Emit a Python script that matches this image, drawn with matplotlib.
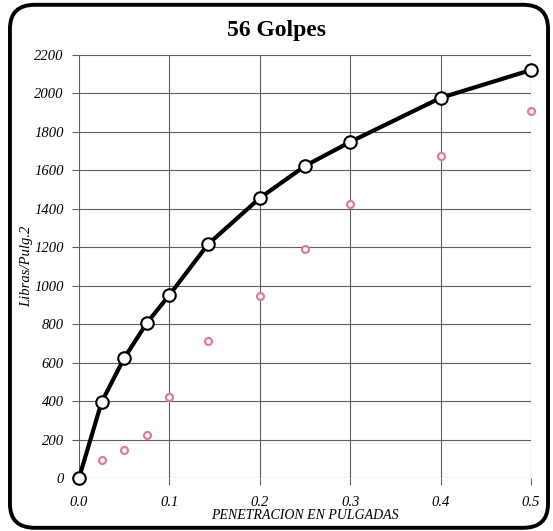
import matplotlib
matplotlib.use("Agg")
import matplotlib.pyplot as plt
from matplotlib.patches import FancyBboxPatch

# Penetration (inches) and load (psi) for the 56-blow specimen
penetracion = [0.0, 0.025, 0.05, 0.075, 0.1, 0.143, 0.2, 0.25, 0.3, 0.4, 0.5]
carga_curva = [0, 395, 624, 806, 952, 1217, 1456, 1623, 1748, 1977, 2122]

penetracion_pat = [0.025, 0.05, 0.075, 0.1, 0.143, 0.2, 0.25, 0.3, 0.4, 0.5]
carga_patron = [94, 146, 224, 421, 713, 947, 1191, 1425, 1675, 1909]

x_ticks = [0.0, 0.1, 0.2, 0.3, 0.4, 0.5]
x_tick_labels = ["0.0", "0.1", "0.2", "0.3", "0.4", "0.5"]
y_ticks = list(range(0, 2201, 200))

serif = ["Liberation Serif", "DejaVu Serif"]

fig = plt.figure(figsize=(5.53, 5.31), dpi=100)
fig.patch.set_facecolor("white")

# rounded frame around the whole chart
frame = FancyBboxPatch((0.018, 0.006), 0.973, 0.985,
                       boxstyle="round,pad=0,rounding_size=0.045",
                       transform=fig.transFigure, facecolor="none",
                       edgecolor="black", linewidth=2.8)
fig.patches.append(frame)

ax = fig.add_axes([0.1429, 0.0998, 0.8173, 0.7966])
ax.set_xlim(0, 0.5)
ax.set_ylim(0, 2200)
for s in ax.spines.values():
    s.set_visible(False)

ax.set_xticks(x_ticks)
ax.set_xticklabels(x_tick_labels)
ax.set_yticks(y_ticks)
ax.grid(True, color="#5e5e5e", linewidth=0.8)
ax.set_axisbelow(True)
ax.tick_params(axis="both", length=5, width=0.8, color="#5e5e5e", pad=6)
for lbl in ax.get_xticklabels() + ax.get_yticklabels():
    lbl.set_fontfamily(serif)
    lbl.set_fontstyle("italic")
    lbl.set_fontsize(10.5)
ax.tick_params(axis="x", pad=8)

ax.plot(penetracion_pat, carga_patron, linestyle="none", marker="o",
        markersize=5, markerfacecolor="white", markeredgecolor="#e07a9a",
        markeredgewidth=1.6, zorder=3, clip_on=False)
ax.plot(penetracion, carga_curva, color="black", linewidth=3,
        marker="o", markersize=9, markerfacecolor="white",
        markeredgecolor="black", markeredgewidth=1.5, zorder=4, clip_on=False)

ax.set_xlabel("PENETRACION EN PULGADAS", fontfamily=serif, fontstyle="italic",
              fontsize=10, labelpad=0)
ax.set_ylabel("Libras/Pulg.2", fontfamily=serif, fontstyle="italic",
              fontsize=10.5, labelpad=1)

fig.text(0.5, 0.943, "56 Golpes", ha="center", va="center",
         fontfamily=serif, fontweight="bold", fontsize=17)

fig.savefig("out.png", dpi=100, facecolor="white")
